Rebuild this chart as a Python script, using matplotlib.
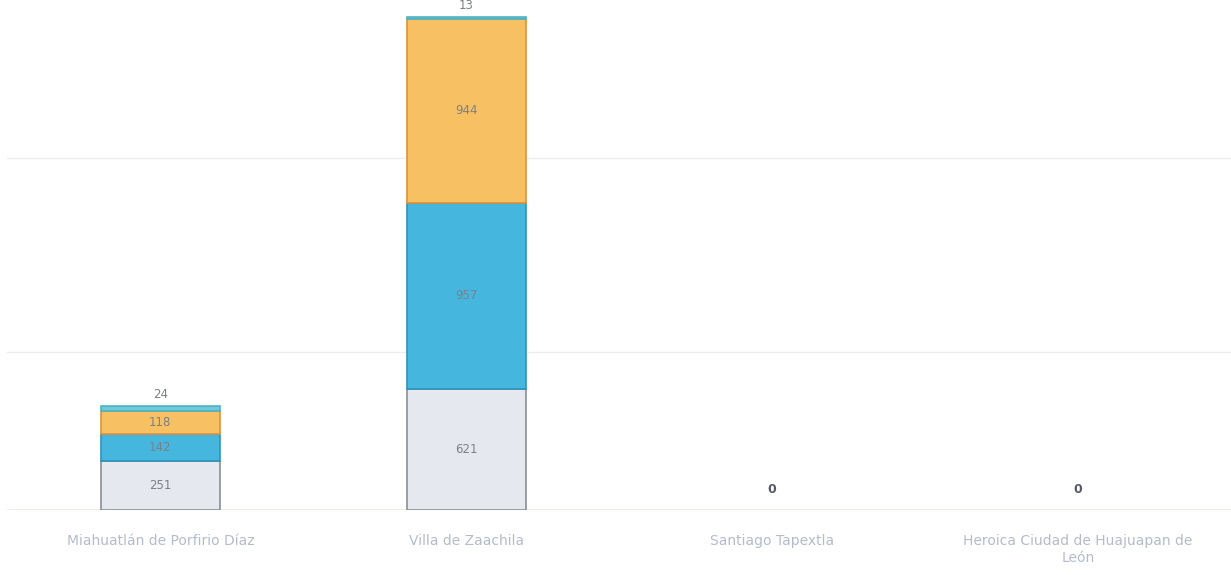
import matplotlib
matplotlib.use("Agg")
import matplotlib.pyplot as plt
import numpy as np

categories = ["Miahuatlán de Porfirio Díaz", "Villa de Zaachila", "Santiago Tapextla",
              "Heroica Ciudad de Huajuapan de\nLeón"]
serie_gris = [251, 621, 0, 0]
serie_azul = [142, 957, 0, 0]
serie_naranja = [118, 944, 0, 0]
serie_cian = [24, 13, 0, 0]

fig = plt.figure(figsize=(12.31, 5.75), dpi=100)
ax = fig.add_axes([0.006, 0.113, 0.994, 0.887])

x = np.arange(len(categories))
w = 0.39
bottom = np.zeros(len(categories))
series = [(serie_gris, "#e6e8f0", "#8a8e98"),
          (serie_azul, "#45b6de", "#2f93bb"),
          (serie_naranja, "#f7c063", "#e0913a"),
          (serie_cian, "#6cc9d6", "#4fb3c3")]
for i, (vals, fc, ec) in enumerate(series):
    v = np.array(vals, dtype=float)
    nz = v > 0
    ax.bar(x[nz], v[nz], w, bottom=bottom[nz], color=fc, edgecolor=ec,
           linewidth=1.2, zorder=3)
    if i < 3:
        for xi, b, vi in zip(x, bottom, v):
            if vi > 0:
                ax.text(xi, b + vi / 2, f"{int(vi)}", ha="center", va="center",
                        fontsize=8.5, color="#7c8088", zorder=4)
    else:
        for xi, b, vi in zip(x, bottom, v):
            if vi > 0:
                ax.text(xi, b + vi + 25, f"{int(vi)}", ha="center", va="bottom",
                        fontsize=8.5, color="#7c8088", zorder=4)
            else:
                ax.text(xi, b + 70, "0", ha="center", va="bottom",
                        fontsize=9, color="#555a66", fontweight="bold", zorder=4)
    bottom += v

ax.set_xlim(-0.5, len(categories) - 0.5)
ax.set_ylim(0, 2620)
ax.set_yticks([810, 1810])
ax.yaxis.grid(True, color="#ececf0", linewidth=1, zorder=0)
ax.tick_params(axis="y", left=False, labelleft=False)
ax.tick_params(axis="x", bottom=False, colors="#b4bccb", labelsize=10, pad=14)
ax.set_xticks(x)
ax.set_xticklabels(categories)
for s in ax.spines.values():
    s.set_visible(False)
ax.axhline(0, color="#e4efe0", linewidth=2, zorder=2)

fig.savefig("out.png", dpi=100, facecolor="white")
